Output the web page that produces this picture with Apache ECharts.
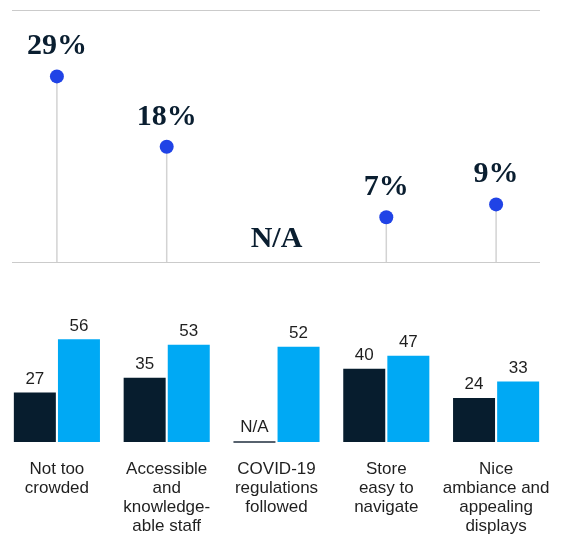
<!DOCTYPE html>
<html>
<head>
<meta charset="utf-8">
<script src="https://cdn.jsdelivr.net/npm/echarts@6/dist/echarts.min.js"></script>
<style>
  html, body { margin: 0; padding: 0; background: #ffffff; }
  #chart { width: 566px; height: 536px; }
</style>
</head>
<body>
<div id="chart"></div>
<script>
// ---- data ----
const categories = [
  'Not too\ncrowded',
  'Accessible\nand\nknowledge-\nable staff',
  'COVID-19\nregulations\nfollowed',
  'Store\neasy to\nnavigate',
  'Nice\nambiance and\nappealing\ndisplays'
];
const shareValues = [29, 18, null, 7, 9];   // % (top lollipops), null = N/A
const darkValues = [27, 35, null, 40, 24];  // dark bars, null = N/A
const blueValues = [56, 53, 52, 47, 33];    // blue bars
const naText = 'N/A';

// ---- styles ----
const DARK = '#071d2e';
const BLUE = '#00a9f4';
const DOT = '#2043e6';
const SERIF = '"Liberation Serif", "DejaVu Serif", serif';
const SANS = '"Liberation Sans", Arial, sans-serif';

const chart = echarts.init(document.getElementById('chart'), null, { renderer: 'canvas' });

const darkData = darkValues.map(v => v === null
  ? { value: 0,
      label: { show: true, formatter: naText },
      itemStyle: { color: 'rgba(0,0,0,0)', borderColor: '#57626e', borderWidth: 2 } }
  : v);

const naTopData = shareValues.map(v => v === null ? 0 : null);

chart.setOption({
  animation: false,
  backgroundColor: '#ffffff',
  grid: [
    { left: 2, width: 549, top: 6, height: 256 },          // lollipops
    { left: 2, width: 549, top: 332, height: 111.3 },      // bars
    { left: 12, width: 528, top: 10.5, height: 251.5 }     // frame lines
  ],
  xAxis: [
    { gridIndex: 0, type: 'category', data: categories, show: false },
    { gridIndex: 1, type: 'category', data: categories,
      axisLine: { show: false }, axisTick: { show: false },
      axisLabel: { interval: 0, margin: 18, color: '#1f1f1f',
        fontFamily: SANS, fontSize: 17, lineHeight: 19 } },
    { gridIndex: 2, type: 'value', show: false, min: 0, max: 1 }
  ],
  yAxis: [
    { gridIndex: 0, type: 'value', min: 0, max: 40, show: false },
    { gridIndex: 1, type: 'value', min: 0, max: 60, show: false },
    { gridIndex: 2, type: 'value', min: 0, max: 1, interval: 1,
      axisLine: { show: false }, axisTick: { show: false }, axisLabel: { show: false },
      splitLine: { show: true, lineStyle: { color: '#cbcbcb', width: 1 } } }
  ],
  series: [
    { type: 'bar', xAxisIndex: 0, yAxisIndex: 0, data: shareValues,
      barWidth: 1.5, itemStyle: { color: '#d3d3d3' }, silent: true, z: 2 },
    { type: 'scatter', xAxisIndex: 0, yAxisIndex: 0, data: shareValues,
      symbol: 'circle', symbolSize: 14, itemStyle: { color: DOT, opacity: 1 }, z: 3,
      label: { show: true, position: 'top', distance: 8,
        formatter: p => p.value + '%',
        fontFamily: SERIF, fontWeight: 'bold', fontSize: 30, color: '#0a1e30' } },
    { type: 'scatter', xAxisIndex: 0, yAxisIndex: 0, data: naTopData,
      symbol: 'circle', symbolSize: 1, itemStyle: { color: 'rgba(0,0,0,0)', opacity: 1 }, z: 3,
      label: { show: true, position: 'top', distance: 7, formatter: naText,
        fontFamily: SERIF, fontWeight: 'bold', fontSize: 30, color: '#0a1e30' } },
    { type: 'bar', xAxisIndex: 1, yAxisIndex: 1, data: darkData,
      barWidth: 42, barGap: '5%', itemStyle: { color: DARK },
      label: { show: true, position: 'top', distance: 5,
        fontFamily: SANS, fontSize: 17, color: '#1f1f1f' } },
    { type: 'bar', xAxisIndex: 1, yAxisIndex: 1, data: blueValues,
      barWidth: 42, barGap: '5%', itemStyle: { color: BLUE },
      label: { show: true, position: 'top', distance: 5,
        fontFamily: SANS, fontSize: 17, color: '#1f1f1f' } }
  ]
});
</script>
</body>
</html>
